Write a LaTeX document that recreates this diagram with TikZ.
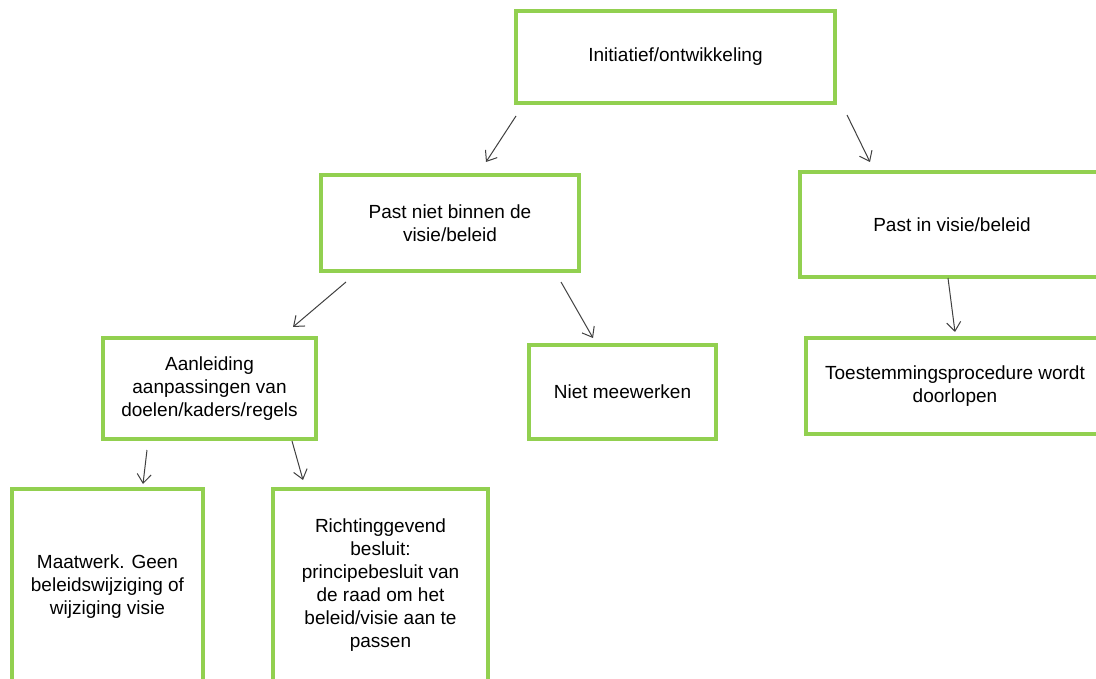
\documentclass[tikz,border=0pt]{standalone}
\usepackage{fontspec}
\setmainfont{Liberation Sans}
\usetikzlibrary{arrows.meta}
\definecolor{boxgreen}{RGB}{146,208,80}
\definecolor{arrgray}{RGB}{64,64,64}
\begin{document}
\begin{tikzpicture}[x=1pt,y=-1pt,
  box/.style={draw=boxgreen, line width=4pt, fill=white, align=center, inner sep=0pt,
    font=\fontsize{19}{23}\selectfont},
  arr/.style={draw=arrgray, line width=1pt, -{Straight Barb[length=9pt,width=14pt]}}]
\useasboundingbox (0,0) rectangle (1096,679);
\clip (0,0) rectangle (1096,679);
\fill[white] (0,0) rectangle (1096,679);

\node[box, minimum width=319pt, minimum height=92pt] (init) at (675.5,57) {Initiatief/ontwikkeling};
\node[box, minimum width=258pt, minimum height=96pt] (pnb) at (450,223) {Past niet binnen de\\visie/beleid};
\node[box, minimum width=304pt, minimum height=105pt] (pin) at (952,224.5) {Past in visie/beleid};
\node[box, minimum width=298pt, minimum height=96pt] (toe) at (955,386) {Toestemmingsprocedure wordt\\doorlopen};
\node[box, minimum width=213pt, minimum height=101pt] (aan) at (209.5,388.5) {Aanleiding\\aanpassingen van\\doelen/kaders/regels};
\node[box, minimum width=187pt, minimum height=94pt] (niet) at (622.5,392) {Niet meewerken};
\node[box, minimum width=191pt, minimum height=196pt] (maat) at (107.5,587) {Maatwerk. Geen\\beleidswijziging of\\wijziging visie};
\node[box, minimum width=215pt, minimum height=193pt] (richt) at (380.5,585.5) {Richtinggevend\\besluit:\\principebesluit van\\de raad om het\\beleid/visie aan te\\passen};

\coordinate (a1s) at (516,116); \coordinate (a1e) at (486,162);
\coordinate (a2s) at (847,115); \coordinate (a2e) at (870,162);
\coordinate (a3s) at (346,282); \coordinate (a3e) at (293,327);
\coordinate (a4s) at (561,282); \coordinate (a4e) at (593,338);
\coordinate (a5s) at (948,278); \coordinate (a5e) at (955,332);
\coordinate (a6s) at (147,450); \coordinate (a6e) at (143,484);
\coordinate (a7s) at (292,441); \coordinate (a7e) at (303,480);

\draw[arr] (a1s) -- (a1e);
\draw[arr] (a2s) -- (a2e);
\draw[arr] (a3s) -- (a3e);
\draw[arr] (a4s) -- (a4e);
\draw[arr] (a5s) -- (a5e);
\draw[arr] (a6s) -- (a6e);
\draw[arr] (a7s) -- (a7e);
\end{tikzpicture}
\end{document}
